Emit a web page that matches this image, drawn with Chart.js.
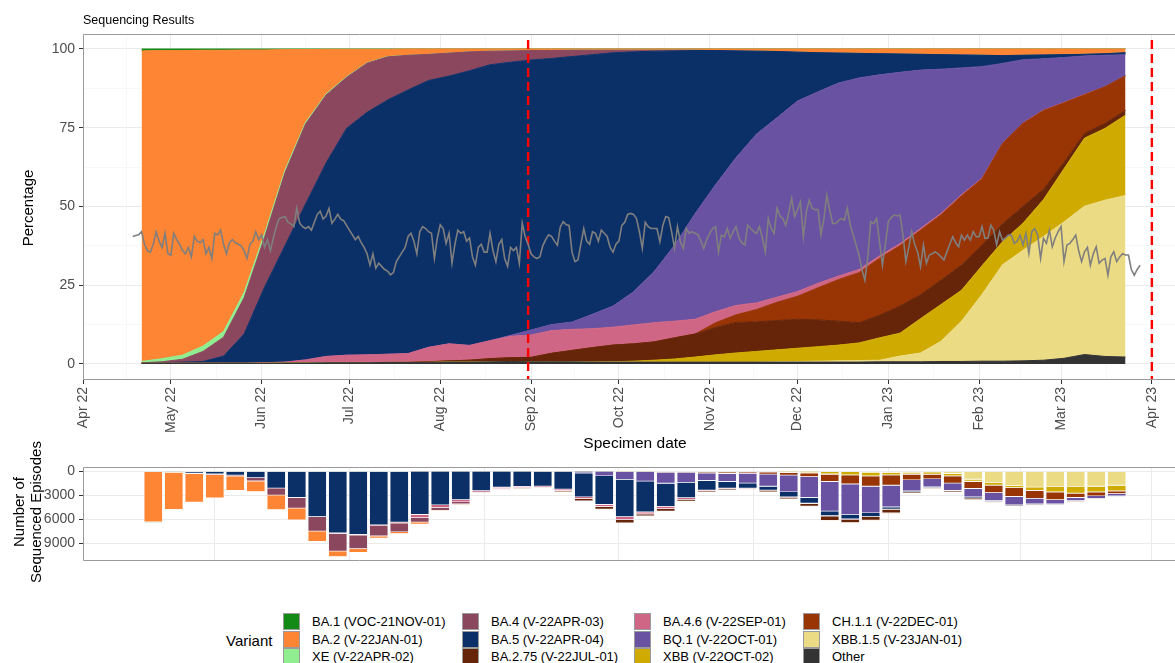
<!DOCTYPE html>
<html>
<head>
<meta charset="utf-8">
<script src="https://cdn.jsdelivr.net/npm/chart.js@4.4.1/dist/chart.umd.min.js"></script>
<style>
    html, body { margin: 0; padding: 0; background: #fff; overflow: hidden; width: 1175px; height: 663px; }
    #wrap { position: relative; width: 1187px; height: 663px; font-family: "Liberation Sans", Arial, sans-serif; color: #000; }
    canvas { position: absolute; left: 0; }
    #topChart { top: 0; }
    #bottomChart { top: 455px; }
    .lbl { position: absolute; white-space: nowrap; line-height: 1; }
    .rot { transform: translate(-50%, -50%) rotate(-90deg); text-align: center; }
    .key { position: absolute; width: 15px; height: 15px; border: 1px solid #9a9a9a; }
</style>
</head>
<body>
<div id="wrap">
    <canvas id="topChart" width="1187" height="455"></canvas>
    <canvas id="bottomChart" width="1187" height="120"></canvas>
    <div class="lbl" style="left:83px; top:14px; font-size:12.5px;">Sequencing Results</div>
    <div class="lbl rot" style="left:27px; top:208px; font-size:15px;">Percentage</div>
    <div class="lbl" style="left:635px; top:443px; font-size:15.5px; transform:translate(-50%,-50%);">Specimen date</div>
    <div class="lbl rot" style="left:27px; top:512px; font-size:15px; line-height:17px;">Number of<br>Sequenced Episodes</div>
    <div id="legend"></div>
</div>
<script>
// ---- categories ----
const VARIANTS = [
    'BA.1 (VOC-21NOV-01)', 'BA.2 (V-22JAN-01)', 'XE (V-22APR-02)',
    'BA.4 (V-22APR-03)', 'BA.5 (V-22APR-04)', 'BA.2.75 (V-22JUL-01)',
    'BA.4.6 (V-22SEP-01)', 'BQ.1 (V-22OCT-01)', 'XBB (V-22OCT-02)',
    'CH.1.1 (V-22DEC-01)', 'XBB.1.5 (V-23JAN-01)', 'Other'
];

const MONTH_TICKS = ['2022-04-01', '2022-05-01', '2022-06-01', '2022-07-01', '2022-08-01', '2022-09-01', '2022-10-01',
    '2022-11-01', '2022-12-01', '2023-01-01', '2023-02-01', '2023-03-01', '2023-04-01'];
const MONTH_LABELS = ['Apr 22', 'May 22', 'Jun 22', 'Jul 22', 'Aug 22', 'Sep 22', 'Oct 22',
    'Nov 22', 'Dec 22', 'Jan 23', 'Feb 23', 'Mar 23', 'Apr 23'];
const BOTTOM_GRID_DATES = ['2022-05-16', '2022-07-01', '2022-08-16', '2022-10-01', '2022-11-16', '2023-01-01', '2023-02-15', '2023-04-01'];
const PCT_TICKS = [0, 25, 50, 75, 100];
const COUNT_TICKS = [0, 3000, 6000, 9000];
const VLINE_DATES = ['2022-08-31', '2023-04-01'];

// weekly points of the percentage areas
const AREA_WEEKS = ['2022-04-21', '2022-04-28', '2022-05-05', '2022-05-12', '2022-05-19', '2022-05-26', '2022-06-02',
    '2022-06-09', '2022-06-16', '2022-06-23', '2022-06-30', '2022-07-07', '2022-07-14', '2022-07-21', '2022-07-28',
    '2022-08-04', '2022-08-11', '2022-08-18', '2022-08-25', '2022-09-01', '2022-09-08', '2022-09-15', '2022-09-22',
    '2022-09-29', '2022-10-06', '2022-10-13', '2022-10-20', '2022-10-27', '2022-11-03', '2022-11-10', '2022-11-17',
    '2022-11-24', '2022-12-01', '2022-12-08', '2022-12-15', '2022-12-22', '2022-12-29', '2023-01-05', '2023-01-12',
    '2023-01-19', '2023-01-26', '2023-02-02', '2023-02-09', '2023-02-16', '2023-02-23', '2023-03-02', '2023-03-09',
    '2023-03-16', '2023-03-23'];

// percentage share per variant (one value per AREA_WEEKS entry)
const SHARE_BA1 = [0.6, 0.5, 0.5, 0.4, 0.4, 0.3, 0.3, 0.2, 0.2, 0.1, 0.1, 0.1, 0.1, 0, 0, 0, 0, 0, 0, 0, 0, 0, 0, 0, 0,
    0, 0, 0, 0, 0, 0, 0, 0, 0, 0, 0, 0, 0, 0, 0, 0, 0, 0, 0, 0, 0, 0, 0, 0];
const SHARE_BA2 = [98.6, 97.8, 96.7, 93.9, 89.3, 77.0, 58.3, 38.2, 23.1, 14.2, 8.7, 4.3, 2.3, 2.0, 1.7, 1.3, 0.9, 0.7,
    0.6, 0.5, 0.5, 0.4, 0.4, 0.4, 0.4, 0.4, 0.4, 0.4, 0.5, 0.6, 0.7, 0.8, 1.0, 1.2, 1.3, 1.4, 1.5, 1.6, 1.7, 1.8, 1.9,
    2.0, 2.1, 2.0, 1.9, 1.8, 1.7, 1.5, 1.2];
const SHARE_XE = [0.4, 1.0, 1.3, 1.7, 1.8, 1.7, 1.2, 0.8, 0.5, 0.3, 0.2, 0.1, 0.1, 0, 0, 0, 0, 0, 0, 0, 0, 0, 0, 0, 0,
    0, 0, 0, 0, 0, 0, 0, 0, 0, 0, 0, 0, 0, 0, 0, 0, 0, 0, 0, 0, 0, 0, 0, 0];
const SHARE_BA4 = [0.1, 0.3, 0.9, 3.2, 6.0, 11.5, 15.8, 23.2, 25.4, 21.6, 16.2, 15.6, 13.7, 11.0, 8.3, 7.3, 6.0, 4.3,
    3.6, 3.0, 2.5, 2.0, 1.4, 0.8, 0.5, 0.3, 0.2, 0.1, 0, 0, 0, 0, 0, 0, 0, 0, 0, 0, 0, 0, 0, 0, 0, 0, 0, 0, 0, 0, 0];
const SHARE_BA5 = [0.1, 0.2, 0.4, 0.6, 2.3, 9.3, 24.0, 37.0, 49.5, 61.4, 72.0, 77.0, 80.7, 83.7, 84.7, 85.0, 87.2, 87.6,
    86.7, 85.7, 84.5, 84.3, 82.4, 80.4, 76.2, 70.0, 61.7, 51.8, 42.6, 33.9, 26.3, 21.0, 15.5, 12.4, 9.5, 7.8, 6.7, 5.8,
    5.0, 4.6, 4.1, 3.6, 2.5, 1.4, 1.2, 0.9, 0.5, 0.5, 0.6];
const SHARE_BA275 = [0, 0, 0, 0, 0, 0, 0, 0, 0, 0, 0, 0, 0, 0, 0.2, 0.4, 0.6, 1.0, 1.2, 1.4, 2.7, 3.6, 4.6, 5.3, 5.5,
    5.8, 6.7, 7.3, 8.7, 9.7, 9.4, 9.3, 9.2, 8.5, 7.6, 6.4, 7.2, 8.6, 7.6, 7.7, 8.0, 6.5, 5.7, 5.3, 3.3, 2.0, 1.5, 1.6, 1.5];
const SHARE_BA46 = [0, 0, 0, 0, 0, 0, 0.2, 0.3, 1.0, 2.0, 2.4, 2.5, 2.6, 2.8, 4.6, 5.4, 4.7, 5.7, 6.8, 7.1, 7.2, 6.7,
    6.0, 5.7, 6.0, 6.1, 5.3, 4.7, 3.5, 3.0, 2.1, 1.6, 1.5, 1.4, 1.1, 1.0, 0.7, 0.6, 0.5, 0.4, 0.3, 0.2, 0.1, 0.1, 0.1,
    0.1, 0.1, 0, 0];
const SHARE_BQ1 = [0, 0, 0, 0, 0, 0, 0, 0, 0, 0, 0, 0, 0, 0, 0, 0, 0, 0, 0.3, 1.6, 1.9, 2.3, 4.6, 6.7, 10.5, 16.2,
    24.1, 33.5, 40.3, 46.9, 53.6, 57.0, 60.5, 60.8, 61.3, 60.8, 57.5, 54.4, 50.3, 45.8, 40.3, 35.4, 25.3, 20.1, 16.3,
    14.3, 12.2, 10.0, 6.7];
const SHARE_XBB = [0, 0, 0, 0, 0, 0, 0, 0, 0, 0, 0, 0, 0, 0, 0, 0, 0, 0, 0, 0, 0, 0, 0, 0.1, 0.3, 0.6, 1.0, 1.6, 2.3,
    2.9, 3.4, 3.8, 4.2, 4.6, 5.0, 5.6, 7.1, 7.3, 10.9, 11.7, 9.8, 9.1, 7.3, 8.6, 11.7, 16.9, 21.6, 22.8, 25.5];
const SHARE_CH11 = [0, 0, 0, 0, 0, 0, 0, 0, 0, 0, 0, 0, 0, 0, 0, 0, 0, 0, 0, 0, 0, 0, 0, 0, 0, 0, 0, 0, 1.5, 2.4, 3.9,
    5.8, 7.3, 10.2, 13.2, 15.9, 18.1, 19.2, 20.5, 20.8, 22.0, 21.1, 25.5, 26.4, 25.0, 18.9, 12.3, 11.6, 11.0];
const SHARE_XBB15 = [0, 0, 0, 0, 0, 0, 0, 0, 0, 0, 0, 0, 0, 0, 0, 0, 0, 0, 0, 0, 0, 0, 0, 0, 0, 0, 0, 0, 0, 0, 0, 0.1,
    0.2, 0.3, 0.4, 0.5, 0.5, 1.8, 2.8, 6.4, 12.8, 21.2, 30.6, 35.1, 39.3, 43.3, 47.1, 49.6, 51.3];
const SHARE_OTHER = [0.2, 0.2, 0.2, 0.2, 0.2, 0.2, 0.2, 0.3, 0.3, 0.4, 0.4, 0.4, 0.5, 0.5, 0.5, 0.6, 0.6, 0.7, 0.8, 0.7,
    0.7, 0.7, 0.6, 0.6, 0.6, 0.6, 0.6, 0.6, 0.6, 0.6, 0.6, 0.6, 0.6, 0.6, 0.6, 0.6, 0.7, 0.7, 0.7, 0.8, 0.8, 0.9, 0.9,
    1.0, 1.2, 1.8, 3.0, 2.4, 2.2];

// daily grey line, starting on LINE_START, one value per day
const LINE_START = '2022-04-18';
const LINE_VALUES = [
    40.5, 40.8, 41, 42, 38, 36, 35.5, 38, 42, 39,
    37, 41.5, 35, 34.5, 41.5, 39.5, 38, 36, 35, 37,
    34, 40.5, 39, 38.5, 39.5, 35, 37, 33.5, 41.5, 41,
    42.5, 38, 35, 38.5, 39.5, 38.5, 38, 37.5, 36, 33.5,
    38, 39, 42, 39.5, 41, 37, 39.5, 36, 40, 43.6,
    46.2, 46.5, 46.8, 45, 44.5, 43.6, 49.4, 44.7, 43.6, 43,
    43.6, 42.5, 45, 47.5, 48.5, 46, 47, 49.4, 44.7, 46,
    47.5, 46, 45.5, 44, 42.5, 41, 39.5, 40.5, 38.5, 37,
    35, 31.4, 35, 30.4, 32, 31, 30, 29.5, 28.3, 29,
    32.5, 34, 35.5, 37, 40.5, 41.5, 39, 35, 42, 43.6,
    43, 42, 41.5, 33.5, 40, 44.2, 43, 38.3, 41.5, 32,
    38, 42.5, 41.5, 42, 39, 40, 34, 31.4, 37, 38,
    35.5, 35.5, 41.5, 36, 32.5, 38, 39.5, 33.5, 31, 37,
    36, 37, 32, 44.7, 40.4, 38, 35, 34, 33.5, 34,
    37.5, 39.5, 41, 40.5, 39, 37.7, 43.5, 45.2, 44.2, 44,
    35.5, 32.5, 33, 38, 43, 39, 38, 42, 41.5, 39,
    42.5, 41.5, 40.5, 37, 35.5, 38, 39, 44, 45, 47.5,
    47.8, 47.5, 46.2, 42, 36.7, 45, 43.6, 43, 43, 43,
    38.8, 44, 46.8, 46.5, 42, 36.7, 43.6, 38.8, 36.7, 43,
    41.5, 42, 41.5, 41, 39, 36.7, 39.5, 41.5, 43, 43.6,
    35.6, 40.9, 40.4, 43, 39.9, 42, 43.6, 40, 38.5, 37.8,
    44.1, 43, 42, 41.5, 43.6, 40, 35.6, 46.2, 43, 41.5,
    49.4, 47, 46.2, 44, 48, 52.6, 46.8, 49, 51.5, 40.4,
    48.3, 52, 49.4, 49, 49, 40.9, 46, 53.6, 48.8, 44.6,
    44.6, 45.5, 46.2, 45.7, 49.4, 44.1, 41, 37.8, 34.6, 30,
    26.6, 34, 45.2, 44.6, 46.2, 38.8, 31.4, 38, 45.2, 46.5,
    47.3, 47, 47.3, 40.9, 32.5, 37, 42, 38, 35.6, 30.9,
    37.8, 32, 34.6, 35, 35.6, 35, 34, 33, 35.6, 38,
    40.4, 38.5, 37.2, 40.9, 39.3, 40.9, 39.3, 42, 40.4, 40.4,
    43.6, 39.9, 39.9, 44.1, 42.5, 37.8, 42, 39.3, 40, 40.9,
    40.9, 38.3, 39, 40.9, 37.8, 41.5, 35.1, 42, 43, 41,
    33.5, 39.9, 38.3, 42.5, 37.2, 40, 42, 43.6, 32.5, 37.8,
    38.3, 39.5, 40.9, 36, 32.5, 35.6, 37, 31.4, 35, 37.2,
    32, 33, 33.5, 28.2, 34, 35.6, 32.5, 34, 35, 34.6,
    34.6, 30, 28.2, 30, 31.4
];

// weekly sequenced episodes (bottom panel)
const BAR_WEEKS = ['2022-04-25', '2022-05-02', '2022-05-09', '2022-05-16', '2022-05-23', '2022-05-30', '2022-06-06',
    '2022-06-13', '2022-06-20', '2022-06-27', '2022-07-04', '2022-07-11', '2022-07-18', '2022-07-25', '2022-08-01',
    '2022-08-08', '2022-08-15', '2022-08-22', '2022-08-29', '2022-09-05', '2022-09-12', '2022-09-19', '2022-09-26',
    '2022-10-03', '2022-10-10', '2022-10-17', '2022-10-24', '2022-10-31', '2022-11-07', '2022-11-14', '2022-11-21',
    '2022-11-28', '2022-12-05', '2022-12-12', '2022-12-19', '2022-12-26', '2023-01-02', '2023-01-09', '2023-01-16',
    '2023-01-23', '2023-01-30', '2023-02-06', '2023-02-13', '2023-02-20', '2023-02-27', '2023-03-06', '2023-03-13',
    '2023-03-20'];
const COUNT_BA1 = [60, 30, 20, 20, 10, 10, 10, 0, 0, 0, 0, 0, 0, 0, 0, 0, 0, 0, 0, 0, 0, 0, 0, 0, 0, 0, 0, 0, 0, 0, 0,
    0, 0, 0, 0, 0, 0, 0, 0, 0, 0, 0, 0, 0, 0, 0, 0, 0];
const COUNT_BA2 = [6300, 4650, 3570, 2900, 1800, 1340, 1820, 1470, 1270, 700, 470, 270, 230, 240, 80, 50, 30, 20, 20,
    10, 10, 10, 10, 10, 10, 10, 10, 10, 10, 10, 20, 30, 40, 50, 60, 70, 60, 30, 20, 30, 50, 40, 50, 60, 40, 40, 30, 30];
const COUNT_XE = [40, 40, 50, 40, 30, 30, 40, 30, 30, 30, 20, 10, 10, 0, 0, 0, 0, 0, 0, 0, 0, 0, 0, 0, 0, 0, 0, 0, 0,
    0, 0, 0, 0, 0, 0, 0, 0, 0, 0, 0, 0, 0, 0, 0, 0, 0, 0, 0];
const COUNT_BA4 = [0, 20, 50, 110, 120, 400, 880, 1330, 1810, 2210, 1730, 1290, 1090, 600, 380, 260, 80, 60, 50, 40,
    40, 30, 20, 20, 0, 0, 0, 0, 0, 0, 0, 0, 0, 0, 0, 0, 0, 0, 0, 0, 0, 0, 0, 0, 0, 0, 0, 0];
const COUNT_BA5 = [10, 70, 190, 290, 440, 780, 2060, 3250, 5640, 7700, 7880, 6700, 6350, 5410, 4200, 3550, 2440, 2000,
    1880, 1830, 2180, 3000, 3590, 4700, 3880, 2910, 1930, 1200, 840, 640, 480, 640, 720, 570, 560, 480, 280, 120, 80,
    80, 150, 100, 70, 60, 40, 30, 20, 20];
const COUNT_BA275 = [0, 0, 0, 0, 0, 0, 0, 0, 0, 0, 0, 0, 0, 10, 20, 20, 20, 20, 30, 40, 90, 260, 330, 380, 240, 300,
    240, 140, 170, 120, 180, 200, 320, 550, 420, 420, 450, 170, 100, 170, 200, 60, 70, 70, 40, 50, 30, 30];
const COUNT_BA46 = [0, 0, 0, 0, 0, 0, 0, 10, 20, 60, 80, 100, 130, 350, 310, 270, 180, 180, 180, 170, 190, 210, 240,
    380, 260, 290, 190, 90, 60, 40, 40, 40, 40, 40, 40, 30, 20, 10, 10, 0, 0, 0, 0, 0, 0, 0, 0, 0];
const COUNT_BQ1 = [0, 0, 0, 0, 0, 0, 0, 0, 0, 0, 0, 0, 0, 0, 0, 0, 0, 0, 0, 20, 50, 200, 560, 950, 1170, 1380, 1260,
    940, 1000, 1220, 1520, 2090, 2610, 3730, 3820, 3340, 2730, 1400, 1000, 930, 1040, 1000, 1050, 690, 530, 400, 320, 280];
const COUNT_XBB = [0, 0, 0, 0, 0, 0, 0, 0, 0, 0, 0, 0, 0, 0, 0, 0, 0, 0, 0, 0, 0, 0, 0, 10, 20, 60, 60, 80, 80, 70, 90,
    120, 170, 280, 380, 460, 310, 220, 270, 300, 260, 340, 260, 390, 620, 790, 700, 700];
const COUNT_CH11 = [0, 0, 0, 0, 0, 0, 0, 0, 0, 0, 0, 0, 0, 0, 0, 0, 0, 0, 0, 0, 0, 0, 0, 20, 20, 40, 60, 120, 180, 170,
    250, 340, 460, 910, 1110, 1270, 1270, 710, 560, 880, 890, 930, 1090, 1000, 970, 520, 490, 330];
const COUNT_XBB15 = [0, 0, 0, 0, 0, 0, 0, 0, 0, 0, 0, 0, 0, 0, 0, 0, 0, 0, 0, 0, 0, 0, 0, 0, 0, 0, 0, 0, 0, 0, 0, 10,
    20, 60, 80, 120, 150, 120, 110, 280, 1000, 1400, 1800, 2000, 1960, 1960, 1880, 1760];
const COUNT_OTHER = [10, 10, 10, 10, 10, 10, 10, 10, 20, 20, 20, 20, 20, 20, 20, 20, 10, 10, 10, 10, 10, 20, 20, 30,
    20, 20, 20, 20, 20, 20, 20, 20, 30, 30, 30, 30, 30, 30, 20, 20, 20, 20, 20, 20, 20, 20, 20, 20];

// ---- styling ----
const COLORS = {
    'BA.1 (VOC-21NOV-01)': '#138a16',
    'BA.2 (V-22JAN-01)': '#fd8533',
    'XE (V-22APR-02)': '#90ee90',
    'BA.4 (V-22APR-03)': '#8b475e',
    'BA.5 (V-22APR-04)': '#0b3068',
    'BA.2.75 (V-22JUL-01)': '#662508',
    'BA.4.6 (V-22SEP-01)': '#cf6686',
    'BQ.1 (V-22OCT-01)': '#6a52a3',
    'XBB (V-22OCT-02)': '#cfaa00',
    'CH.1.1 (V-22DEC-01)': '#993404',
    'XBB.1.5 (V-23JAN-01)': '#ecdb85',
    'Other': '#333333'
};
const GRID_MAJOR = '#ebebeb';
const GRID_MINOR = '#f4f4f4';
const BORDER = '#9a9a9a';
const TICK_TEXT = '#4d4d4d';
const X_END = '2023-04-13';

Chart.defaults.font.family = '"Liberation Sans", Arial, sans-serif';

const DAY0 = Date.UTC(2022, 3, 1);
function dayOf(s) {
    const [y, m, d] = s.split('-').map(Number);
    return (Date.UTC(y, m - 1, d) - DAY0) / 86400000;
}

const areaSeries = {
    'Other': SHARE_OTHER, 'XBB.1.5 (V-23JAN-01)': SHARE_XBB15, 'XBB (V-22OCT-02)': SHARE_XBB,
    'BA.2.75 (V-22JUL-01)': SHARE_BA275, 'CH.1.1 (V-22DEC-01)': SHARE_CH11, 'BA.4.6 (V-22SEP-01)': SHARE_BA46,
    'BQ.1 (V-22OCT-01)': SHARE_BQ1, 'BA.5 (V-22APR-04)': SHARE_BA5, 'BA.4 (V-22APR-03)': SHARE_BA4,
    'XE (V-22APR-02)': SHARE_XE, 'BA.2 (V-22JAN-01)': SHARE_BA2, 'BA.1 (VOC-21NOV-01)': SHARE_BA1
};
const barSeries = {
    'XE (V-22APR-02)': COUNT_XE, 'XBB.1.5 (V-23JAN-01)': COUNT_XBB15, 'XBB (V-22OCT-02)': COUNT_XBB,
    'Other': COUNT_OTHER, 'CH.1.1 (V-22DEC-01)': COUNT_CH11, 'BQ.1 (V-22OCT-01)': COUNT_BQ1,
    'BA.5 (V-22APR-04)': COUNT_BA5, 'BA.4.6 (V-22SEP-01)': COUNT_BA46, 'BA.4 (V-22APR-03)': COUNT_BA4,
    'BA.2.75 (V-22JUL-01)': COUNT_BA275, 'BA.2 (V-22JAN-01)': COUNT_BA2, 'BA.1 (VOC-21NOV-01)': COUNT_BA1
};

const areaDays = AREA_WEEKS.map(dayOf);
const barDays = BAR_WEEKS.map(dayOf);
const monthDays = MONTH_TICKS.map(dayOf);
const monthLabelByDay = new Map(monthDays.map((d, i) => [d, MONTH_LABELS[i]]));
const monthMinor = monthDays.slice(1).map((d, i) => (d + monthDays[i]) / 2);
const xMax = dayOf(X_END);

function isMajorPct(v) { return PCT_TICKS.includes(v); }
function isMajorMonth(v) { return monthLabelByDay.has(v); }
function isMajorCount(v) { return COUNT_TICKS.includes(v); }

const panelBorder = {
    id: 'panelBorder',
    afterDraw(chart) {
        const { ctx, chartArea: a } = chart;
        const l = Math.round(a.left) + 0.5, t = Math.round(a.top) + 0.5, b = Math.round(a.bottom) - 0.5;
        ctx.save();
        ctx.strokeStyle = BORDER;
        ctx.lineWidth = 1;
        ctx.beginPath();
        ctx.moveTo(a.right, b);
        ctx.lineTo(l, b);
        ctx.lineTo(l, t);
        ctx.lineTo(a.right, t);
        ctx.stroke();
        ctx.restore();
    }
};

// ---- top panel: percentage areas ----
const areaDatasets = Object.entries(areaSeries).map(([name, values], i) => ({
    label: name,
    data: values.map((v, j) => ({ x: areaDays[j], y: v })),
    backgroundColor: COLORS[name],
    borderColor: COLORS[name],
    borderWidth: 1,
    fill: i === 0 ? 'origin' : '-1',
    order: 1
}));

const lineStart = dayOf(LINE_START);
const greyLine = {
    label: 'line',
    data: LINE_VALUES.map((v, i) => ({ x: lineStart + i, y: v })),
    yAxisID: 'y2',
    borderColor: '#7f7f7f',
    borderWidth: 1.6,
    fill: false,
    order: 0
};

const vlines = VLINE_DATES.map(d => ({
    label: 'vline',
    data: [{ x: dayOf(d), y: -20 }, { x: dayOf(d), y: 120 }],
    yAxisID: 'y2',
    borderColor: '#ff0000',
    borderWidth: 2.4,
    borderDash: [9, 5],
    fill: false,
    order: 0
}));

const PCT_MIN = -5.08, PCT_MAX = 104.76;

new Chart(document.getElementById('topChart'), {
    type: 'line',
    data: { datasets: [...areaDatasets, greyLine, ...vlines] },
    options: {
        responsive: false,
        animation: false,
        devicePixelRatio: 1,
        layout: { padding: { top: 34, left: 0, right: 0, bottom: 0 } },
        elements: { point: { radius: 0 }, line: { tension: 0 } },
        plugins: { legend: { display: false }, tooltip: { enabled: false } },
        scales: {
            x: {
                type: 'linear',
                min: 0,
                max: xMax,
                afterBuildTicks: s => { s.ticks = [...monthDays, ...monthMinor].sort((a, b) => a - b).map(v => ({ value: v })); },
                afterFit: s => { s.height = 75; },
                border: { display: false },
                grid: {
                    color: c => isMajorMonth(c.tick.value) ? GRID_MAJOR : GRID_MINOR,
                    lineWidth: c => isMajorMonth(c.tick.value) ? 1 : 0.6,
                    tickColor: c => isMajorMonth(c.tick.value) ? '#333333' : 'rgba(0,0,0,0)',
                    tickLength: 4
                },
                ticks: {
                    autoSkip: false,
                    minRotation: 90,
                    maxRotation: 90,
                    padding: 3,
                    color: TICK_TEXT,
                    font: { size: 14 },
                    callback: v => monthLabelByDay.get(v) || ''
                }
            },
            y: {
                stacked: true,
                min: PCT_MIN,
                max: PCT_MAX,
                afterBuildTicks: s => { s.ticks = [0, 12.5, 25, 37.5, 50, 62.5, 75, 87.5, 100].map(v => ({ value: v })); },
                afterFit: s => { s.width = 83; },
                border: { display: false },
                grid: {
                    color: c => isMajorPct(c.tick.value) ? GRID_MAJOR : GRID_MINOR,
                    lineWidth: c => isMajorPct(c.tick.value) ? 1 : 0.6,
                    tickColor: c => isMajorPct(c.tick.value) ? '#333333' : 'rgba(0,0,0,0)',
                    tickLength: 4
                },
                ticks: {
                    padding: 4,
                    color: TICK_TEXT,
                    font: { size: 14 },
                    callback: v => isMajorPct(v) ? String(v) : ''
                }
            },
            y2: { display: false, min: PCT_MIN, max: PCT_MAX }
        }
    },
    plugins: [panelBorder]
});

// ---- bottom panel: weekly sequenced episodes ----
const barDatasets = Object.entries(barSeries).map(([name, values]) => ({
    label: name,
    data: values.map((v, j) => ({ x: barDays[j], y: v })),
    backgroundColor: COLORS[name],
    borderColor: 'rgba(255,255,255,0.7)',
    borderWidth: 0.6,
    barPercentage: 0.92,
    categoryPercentage: 1.0
}));

const bottomGridDays = BOTTOM_GRID_DATES.map(dayOf);

new Chart(document.getElementById('bottomChart'), {
    type: 'bar',
    data: { datasets: barDatasets },
    options: {
        responsive: false,
        animation: false,
        devicePixelRatio: 1,
        layout: { padding: { top: 8.5, left: 0, right: 0, bottom: 0 } },
        plugins: { legend: { display: false }, tooltip: { enabled: false } },
        scales: {
            x: {
                type: 'linear',
                stacked: true,
                offset: false,
                min: 0,
                max: xMax,
                afterBuildTicks: s => { s.ticks = bottomGridDays.map(v => ({ value: v })); },
                afterFit: s => { s.height = 14; },
                border: { display: false },
                grid: { color: GRID_MAJOR, lineWidth: 1, drawTicks: false, offset: false },
                ticks: { display: false }
            },
            y: {
                stacked: true,
                reverse: true,
                min: -506,
                max: 11240,
                afterBuildTicks: s => { s.ticks = [0, 1500, 3000, 4500, 6000, 7500, 9000, 10500].map(v => ({ value: v })); },
                afterFit: s => { s.width = 83; },
                border: { display: false },
                grid: {
                    color: c => isMajorCount(c.tick.value) ? GRID_MAJOR : GRID_MINOR,
                    lineWidth: c => isMajorCount(c.tick.value) ? 1 : 0.6,
                    tickColor: c => isMajorCount(c.tick.value) ? '#333333' : 'rgba(0,0,0,0)',
                    tickLength: 4
                },
                ticks: {
                    padding: 4,
                    color: TICK_TEXT,
                    font: { size: 14 },
                    callback: v => isMajorCount(v) ? String(v) : ''
                }
            }
        }
    },
    plugins: [panelBorder]
});

// ---- legend ----
const legend = document.getElementById('legend');
const colX = [283, 462, 634, 803];
const rowY = [613, 630.5, 648];
legend.innerHTML = '<div class="lbl" style="left:226px; top:633px; font-size:15px;">Variant</div>' +
    VARIANTS.map((name, i) => {
        const c = Math.floor(i / 3), r = i % 3;
        return `<div class="key" style="left:${colX[c]}px; top:${rowY[r]}px; background:${COLORS[name]};"></div>` +
            `<div class="lbl" style="left:${colX[c] + 29}px; top:${rowY[r] + 2}px; font-size:13px;">${name}</div>`;
    }).join('');
</script>
</body>
</html>
